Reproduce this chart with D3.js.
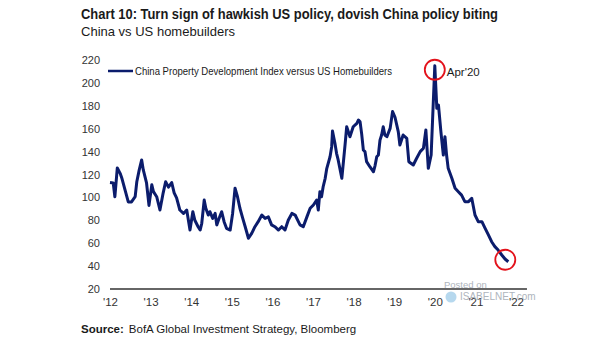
<!DOCTYPE html>
<html>
<head>
<meta charset="utf-8">
<script src="https://cdn.jsdelivr.net/npm/d3@7"></script>
<style>
  body { margin: 0; background: #fff; }
</style>
</head>
<body>
<script>
var width = 605, height = 341;

// axis ticks
var tickYears = [2012, 2013, 2014, 2015, 2016, 2017, 2018, 2019, 2020, 2021, 2022];
var yTicks = [20, 40, 60, 80, 100, 120, 140, 160, 180, 200, 220];

// China Property Development Index vs US Homebuilders (decimal year, ratio)
var years = [
  2012.00, 2012.08, 2012.12, 2012.18, 2012.25, 2012.29, 2012.37, 2012.45, 2012.53, 2012.62,
  2012.66, 2012.72, 2012.78, 2012.82, 2012.90, 2012.96, 2013.03, 2013.07, 2013.15, 2013.23,
  2013.31, 2013.37, 2013.44, 2013.52, 2013.58, 2013.64, 2013.72, 2013.81, 2013.89, 2013.97,
  2014.04, 2014.09, 2014.17, 2014.22, 2014.26, 2014.32, 2014.36, 2014.42, 2014.46, 2014.53,
  2014.59, 2014.63, 2014.69, 2014.75, 2014.81, 2014.87, 2014.96, 2015.02, 2015.08, 2015.14,
  2015.20, 2015.27, 2015.33, 2015.41, 2015.49, 2015.57, 2015.65, 2015.74, 2015.82, 2015.90,
  2015.98, 2016.06, 2016.15, 2016.23, 2016.31, 2016.39, 2016.48, 2016.56, 2016.64, 2016.68,
  2016.76, 2016.85, 2016.93, 2017.01, 2017.09, 2017.13, 2017.17, 2017.21, 2017.25, 2017.30,
  2017.34, 2017.42, 2017.46, 2017.48, 2017.54, 2017.58, 2017.62, 2017.71, 2017.79, 2017.83,
  2017.91, 2017.99, 2018.08, 2018.12, 2018.16, 2018.20, 2018.24, 2018.28, 2018.32, 2018.40,
  2018.49, 2018.53, 2018.57, 2018.61, 2018.65, 2018.69, 2018.73, 2018.77, 2018.82, 2018.90,
  2018.96, 2019.02, 2019.10, 2019.14, 2019.22, 2019.31, 2019.36, 2019.47, 2019.55, 2019.64,
  2019.72, 2019.78, 2019.84, 2019.91, 2019.96, 2020.00, 2020.05, 2020.09, 2020.15, 2020.21,
  2020.25, 2020.29, 2020.33, 2020.42, 2020.50, 2020.58, 2020.66, 2020.74, 2020.83, 2020.91,
  2020.99, 2021.07, 2021.16, 2021.24, 2021.32, 2021.40, 2021.48, 2021.56, 2021.65, 2021.73,
  2021.81
];
var values = [
  113, 112.6, 100.6, 125.7, 121, 117, 106.5, 96, 96, 100.6,
  113.7, 124, 132.7, 124, 112.6, 93, 111, 105, 100.6, 89,
  104, 113.7, 109, 113, 104, 99.5, 89, 86, 89, 71.5,
  87.5, 80, 74.4, 71.5, 77.4, 97.7, 90.5, 84.6, 87.5, 81.7,
  86, 76, 82, 87.5, 78.8, 73, 71.5, 86, 108, 100.6,
  90.5, 81.7, 74.4, 64.3, 68.6, 74.4, 78.8, 84.6, 81.7, 83,
  76, 74.4, 71.5, 74.4, 71.5, 80, 86, 84.6, 78.8, 76,
  74.4, 83, 90.5, 93.4, 97.7, 89, 105, 100.6, 109.3, 116.7,
  125.4, 135.5, 144.3, 158, 147.3, 138.5, 132.7, 116.7, 146, 161.7,
  153, 161.7, 164.7, 167.6, 166, 155, 141.4, 140, 131.2, 126.8,
  122.4, 128, 135.5, 137, 150, 154.5, 161.7, 154.5, 153, 160.3,
  175, 170, 157.4, 145.8, 154.5, 151.6, 131.2, 128.3, 134, 140,
  143, 158.9, 125.4, 137, 180.7, 215, 177.8, 180.7, 157.4, 137,
  153, 137, 125.4, 116.7, 108, 105, 102, 96.3, 96.3, 99.2,
  84.6, 78.8, 78.8, 73, 67.2, 61.3, 57, 54, 49.7, 46.2,
  43.8
];

var navy = "#0b1c6c";
var textFont = "'Liberation Sans Narrow', 'Liberation Sans', Arial, sans-serif";

var svg = d3.select("body").append("svg")
    .attr("width", width)
    .attr("height", height)
    .style("font-family", textFont);

svg.append("rect").attr("width", width).attr("height", height).attr("fill", "#fff");

var x = d3.scaleLinear().domain([2012, 2022]).range([110, 516]);
var y = d3.scaleLinear().domain([20, 220]).range([289, 60]);

// title block
svg.append("text")
    .attr("x", 81).attr("y", 19)
    .attr("font-size", 15.5)
    .attr("font-weight", "bold")
    .attr("fill", "#1a1a1a")
    .attr("textLength", 417)
    .attr("lengthAdjust", "spacingAndGlyphs")
    .text("Chart 10: Turn sign of hawkish US policy, dovish China policy biting");

svg.append("text")
    .attr("x", 81).attr("y", 36)
    .attr("font-size", 13.5)
    .attr("fill", "#1a1a1a")
    .attr("textLength", 154)
    .attr("lengthAdjust", "spacingAndGlyphs")
    .text("China vs US homebuilders");

// y axis labels
var yAxis = svg.append("g")
    .attr("transform", "translate(103,0)")
    .call(d3.axisLeft(y).tickValues(yTicks).tickSize(0).tickPadding(3));
yAxis.select(".domain").remove();
yAxis.selectAll("text")
    .attr("font-family", textFont)
    .attr("font-size", 11)
    .attr("fill", "#333");

// x axis
var xAxis = svg.append("g")
    .attr("transform", "translate(0,289)")
    .call(d3.axisBottom(x).tickValues(tickYears).tickSize(0).tickPadding(9)
        .tickFormat(function(d) { return "'" + String(d).slice(2); }));
xAxis.select(".domain").remove();
xAxis.selectAll("text")
    .attr("font-family", textFont)
    .attr("font-size", 11.5)
    .attr("fill", "#333");

svg.append("line")
    .attr("x1", x(2012)).attr("x2", x(2022.27))
    .attr("y1", y(20)).attr("y2", y(20))
    .attr("stroke", "#333")
    .attr("stroke-width", 1.6);

// watermark, sits faintly over the last tick labels
var wm = svg.append("g").attr("fill", "#9aa3ad").attr("opacity", 0.8);
wm.append("text").attr("x", 444).attr("y", 288).attr("font-size", 9.5)
    .attr("font-family", "Arial, sans-serif").text("Posted on");
wm.append("circle").attr("cx", 451).attr("cy", 297).attr("r", 5.5)
    .attr("fill", "#8fc3e6").attr("opacity", 0.8);
wm.append("text").attr("x", 460).attr("y", 300).attr("font-size", 10)
    .attr("font-family", "Arial, sans-serif").text("ISABELNET.com");

// series
var data = years.map(function(t, i) { return [t, values[i]]; });
var line = d3.line()
    .x(function(d) { return x(d[0]); })
    .y(function(d) { return y(d[1]); });

svg.append("path")
    .datum(data)
    .attr("fill", "none")
    .attr("stroke", navy)
    .attr("stroke-width", 3)
    .attr("stroke-linejoin", "round")
    .attr("d", line);

// legend
svg.append("line")
    .attr("x1", 108).attr("x2", 133)
    .attr("y1", 71).attr("y2", 71)
    .attr("stroke", navy).attr("stroke-width", 2.5);
svg.append("text")
    .attr("x", 135).attr("y", 75)
    .attr("font-size", 10.5)
    .attr("fill", "#1a1a1a")
    .attr("textLength", 257)
    .attr("lengthAdjust", "spacingAndGlyphs")
    .text("China Property Development Index versus US Homebuilders");

// highlight peak and latest reading
var iMax = d3.maxIndex(values);
var iLast = values.length - 1;
svg.append("circle")
    .attr("cx", x(years[iMax])).attr("cy", y(values[iMax]) + 4)
    .attr("r", 10)
    .attr("fill", "none").attr("stroke", "#e3121b").attr("stroke-width", 1.8);
svg.append("circle")
    .attr("cx", x(years[iLast]) - 3).attr("cy", y(values[iLast]) - 2)
    .attr("r", 10)
    .attr("fill", "none").attr("stroke", "#e3121b").attr("stroke-width", 1.8);

svg.append("text")
    .attr("x", x(years[iMax]) + 12).attr("y", 76)
    .attr("font-size", 11.5)
    .attr("fill", "#1a1a1a")
    .text("Apr'20");

// source line
var src = svg.append("text")
    .attr("x", 81).attr("y", 333)
    .attr("font-size", 11.5)
    .attr("fill", "#1a1a1a");
src.append("tspan").attr("font-weight", "bold").text("Source:");
src.append("tspan").attr("dx", 5).text("BofA Global Investment Strategy, Bloomberg");
</script>
</body>
</html>
